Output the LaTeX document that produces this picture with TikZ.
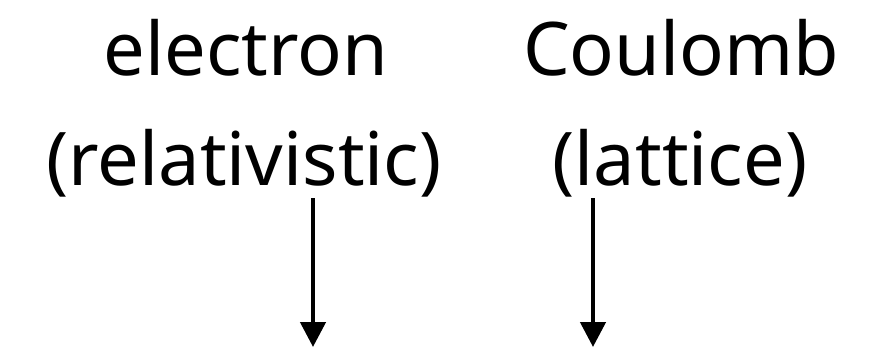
\documentclass[tikz,border=0pt]{standalone}
\usepackage{fontspec}
\setmainfont{Noto Sans}
\usetikzlibrary{arrows.meta}
\tikzset{
	big label/.style={anchor=base, inner sep=0pt, font=\fontsize{74}{80}\selectfont},
	down arrow/.style={line width=4.5pt, -{Triangle[length=25pt,width=25pt]}},
}

\begin{document}
\begin{tikzpicture}[x=1pt,y=-1pt]
	\useasboundingbox (0,0) rectangle (881,356);
	\node[big label] (electron) at (246,75) {electron};
	\node[big label] (relativistic) at (244,185) {(relativistic)};
	\node[big label] (coulomb) at (681,75) {Coulomb};
	\node[big label] (lattice) at (680,185) {(lattice)};
	% arrows below the second line
	\coordinate (rel start) at (313,198);
	\coordinate (rel end) at (313,347);
	\coordinate (lat start) at (593,198);
	\coordinate (lat end) at (593,347);
	\draw[down arrow] (rel start) -- (rel end);
	\draw[down arrow] (lat start) -- (lat end);
\end{tikzpicture}
\end{document}
